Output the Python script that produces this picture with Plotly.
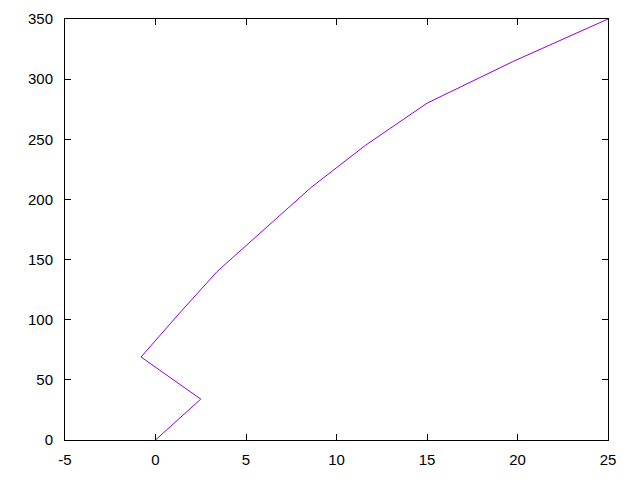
import plotly.graph_objects as go

x_values = [0, 2.5, -0.8, 1.3, 3.4, 6.0, 8.6, 11.6, 15.0, 19.8, 25.0]
y_values = [0, 34, 69, 105, 140, 175, 210, 245, 280, 315, 350]

x_ticks = [-5, 0, 5, 10, 15, 20, 25]
x_tick_labels = ["-5", "0", "5", "10", "15", "20", "25"]
y_ticks = [0, 50, 100, 150, 200, 250, 300, 350]
y_tick_labels = ["0", "50", "100", "150", "200", "250", "300", "350"]

fig = go.Figure()
fig.add_trace(go.Scatter(x=x_values, y=y_values, mode="lines",
                         line=dict(color="#9400D3", width=1), showlegend=False))

axis_common = dict(showline=True, linecolor="black", linewidth=1, mirror="ticks",
                   ticks="inside", ticklen=6, tickcolor="black", tickwidth=1,
                   showgrid=False, zeroline=False, automargin=False,
                   tickfont=dict(family="Liberation Sans, Arial", size=15, color="black"))

fig.update_layout(
    width=632, height=472,
    margin=dict(l=57, r=32, t=11, b=40),
    paper_bgcolor="white", plot_bgcolor="white",
    xaxis=dict(range=[-5, 25], tickmode="array", tickvals=x_ticks, ticktext=x_tick_labels,
               ticklabelstandoff=6, **axis_common),
    yaxis=dict(range=[0, 350], tickmode="array", tickvals=y_ticks, ticktext=y_tick_labels,
               ticklabelstandoff=8, **axis_common),
)

fig.write_html("out.html")
